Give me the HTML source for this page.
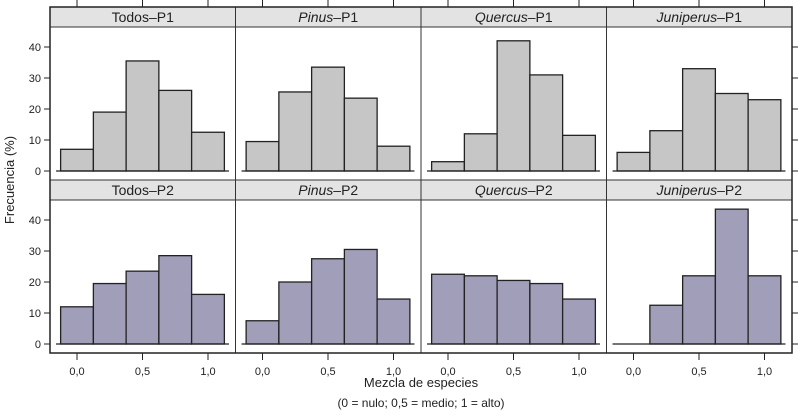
<!DOCTYPE html>
<html><head><meta charset="utf-8"><style>
body{margin:0;background:#fff;}
svg text{font-family:"Liberation Sans",sans-serif;fill:#222;}
</style></head><body>
<svg id="c" width="800" height="412"></svg>
<script>
const panelTitles=[["Todos","P1"],["Pinus","P1"],["Quercus","P1"],["Juniperus","P1"],["Todos","P2"],["Pinus","P2"],["Quercus","P2"],["Juniperus","P2"]];
const binCenters=[0,0.25,0.5,0.75,1.0];
const todosP1=[7,19,35.5,26,12.5];
const pinusP1=[9.5,25.5,33.5,23.5,8];
const quercusP1=[3,12,42,31,11.5];
const juniperusP1=[6,13,33,25,23];
const todosP2=[12,19.5,23.5,28.5,16];
const pinusP2=[7.5,20,27.5,30.5,14.5];
const quercusP2=[22.5,22,20.5,19.5,14.5];
const juniperusP2=[0,12.5,22,43.5,22];
const yTicks=[0,10,20,30,40];
const xTicks=[0,0.5,1.0];
const xTickLabels=["0,0","0,5","1,0"];

const series=[todosP1,pinusP1,quercusP1,juniperusP1,todosP2,pinusP2,quercusP2,juniperusP2];
const NS="http://www.w3.org/2000/svg";
const svg=document.getElementById('c');
function mk(t,a,p){const e=document.createElementNS(NS,t);for(const k in a)e.setAttribute(k,a[k]);(p||svg).appendChild(e);return e;}
const L=50,R=792,T=7,stripH=20,panelH=153;
const colW=(R-L)/4;
function rowTop(r){return T+r*(stripH+panelH);}
function yScale(r,v){return rowTop(r)+stripH+144-v*3.1;}
function xScale(c,v){return L+c*colW+27+v*131;}
for(let i=0;i<8;i++){
  const r=Math.floor(i/4),c=i%4;
  const x0=L+c*colW,y0=rowTop(r);
  const g=mk('g',{});
  
  
  const s=mk('rect',{x:x0,y:y0,width:colW,height:stripH,fill:'#e3e3e3',stroke:'#333','stroke-width':1},g);
  
  
  const tt=mk('text',{x:x0+colW/2,y:y0+15,'text-anchor':'middle','font-size':14},g);
  
  
  const ts=mk('tspan',{'font-style':panelTitles[i][0]==='Todos'?'normal':'italic'},tt);ts.textContent=panelTitles[i][0];
  const ts2=mk('tspan',{},tt);ts2.textContent='\u2013'+panelTitles[i][1];
  const fill=r===0?'#c6c6c6':'#a09eb8';
  const vals=series[i];
  for(let b=0;b<binCenters.length;b++){
    const xa=xScale(c,binCenters[b]-0.125),xb=xScale(c,binCenters[b]+0.125);
    const ya=yScale(r,vals[b]),yb=yScale(r,0);
    const rc=mk('rect',{x:xa,y:ya,width:xb-xa,height:yb-ya,fill:fill,stroke:'#222','stroke-width':1.3},g);
    
    
  }
  mk('line',{x1:xScale(c,-0.16),x2:xScale(c,1.16),y1:yScale(r,0),y2:yScale(r,0),stroke:'#222','stroke-width':1.3},g);
  mk('rect',{x:x0,y:y0+stripH,width:colW,height:panelH,fill:'none',stroke:'#333','stroke-width':1},g);
}
// outer frame
mk('rect',{x:L,y:T,width:R-L,height:2*(stripH+panelH),fill:'none',stroke:'#222','stroke-width':1.5});
// y axes
for(let r=0;r<2;r++){
  for(const v of yTicks){
    const y=yScale(r,v);
    mk('line',{x1:L-6,x2:L,y1:y,y2:y,stroke:'#222'});
    mk('line',{x1:R,x2:R+6,y1:y,y2:y,stroke:'#222'});
    const t=mk('text',{x:L-9,y:y+4,'text-anchor':'end','font-size':11});
    t.textContent=v;
    
    
  }
}
// x axes
for(let c=0;c<4;c++){
  xTicks.forEach((v,k)=>{
    const x=xScale(c,v);
    mk('line',{x1:x,x2:x,y1:0,y2:T,stroke:'#222'});
    const yb=T+2*(stripH+panelH);
    mk('line',{x1:x,x2:x,y1:yb,y2:yb+7,stroke:'#222'});
    const t=mk('text',{x:x,y:yb+22,'text-anchor':'middle','font-size':11});
    t.textContent=xTickLabels[k];
    
    
  });
}
const yl=mk('text',{x:14,y:180,'text-anchor':'middle','font-size':13,transform:'rotate(-90 14 180)'});
yl.textContent='Frecuencia (%)';


const xl=mk('text',{x:421,y:387,'text-anchor':'middle','font-size':13});
xl.textContent='Mezcla de especies';


const xs=mk('text',{x:421,y:407,'text-anchor':'middle','font-size':12});
xs.textContent='(0 = nulo; 0,5 = medio; 1 = alto)';


</script>
</body></html>
